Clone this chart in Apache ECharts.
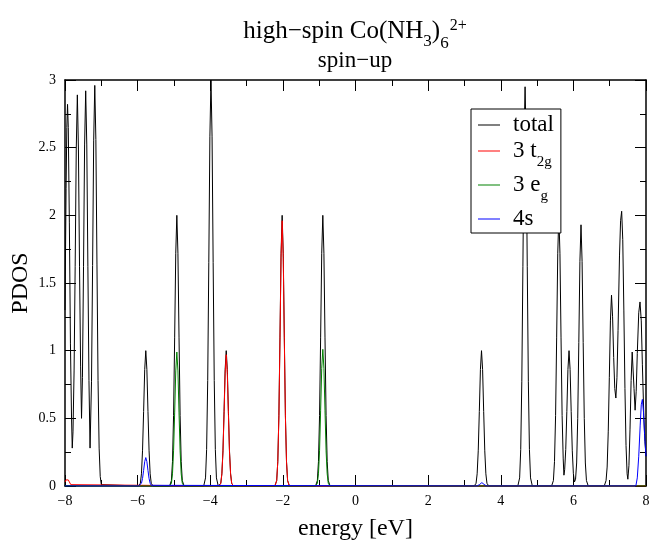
<!DOCTYPE html>
<html><head><meta charset="utf-8">
<script src="https://cdn.jsdelivr.net/npm/echarts@6/dist/echarts.min.js"></script>
<style>html,body{margin:0;padding:0;background:#fff}#c{width:652px;height:542px}</style>
</head><body><div id="c"></div>
<script>
// ---- data ----
const seriesNames = ['total', '3 t2g', '3 eg', '4s'];
const xTicks = [-8, -6, -4, -2, 0, 2, 4, 6, 8];
const yTicks = [0, 0.5, 1, 1.5, 2, 2.5, 3];

const totalPts = [
  [-8.00,1.30],[-7.97,2.20],[-7.95,2.65],[-7.93,2.82],[-7.91,2.65],[-7.88,1.95],[-7.85,1.05],[-7.82,0.50],[-7.80,0.28],[-7.78,0.40],
  [-7.75,0.85],[-7.72,1.62],[-7.69,2.49],[-7.66,2.89],[-7.63,2.49],[-7.60,1.62],[-7.57,0.88],[-7.545,0.50],[-7.52,0.80],[-7.49,1.62],
  [-7.46,2.52],[-7.43,2.92],[-7.40,2.52],[-7.37,1.62],[-7.34,0.78],[-7.31,0.28],[-7.27,0.77],[-7.24,1.63],[-7.21,2.55],[-7.18,2.96],
  [-7.15,2.56],[-7.12,1.64],[-7.09,0.78],[-7.06,0.28],[-7.03,0.07],[-7.00,0.01],[-6.95,0],
  [-5.975,0],[-5.925,0.02],[-5.895,0.09],[-5.865,0.26],[-5.835,0.55],[-5.805,0.86],[-5.775,1.0],[-5.745,0.86],[-5.715,0.55],[-5.685,0.26],[-5.655,0.09],[-5.625,0.02],[-5.575,0],
  [-5.12,0],[-5.07,0.04],[-5.04,0.18],[-5.01,0.52],[-4.98,1.10],[-4.95,1.72],[-4.92,2.0],[-4.89,1.72],[-4.86,1.10],[-4.83,0.52],[-4.80,0.18],[-4.77,0.04],[-4.72,0],
  [-4.18,0],[-4.13,0.06],[-4.10,0.27],[-4.07,0.78],[-4.04,1.65],[-4.01,2.58],[-3.98,3.0],[-3.95,2.58],[-3.92,1.65],[-3.89,0.78],[-3.86,0.27],[-3.83,0.06],[-3.78,0],
  [-3.76,0],[-3.71,0.02],[-3.68,0.09],[-3.65,0.26],[-3.62,0.55],[-3.59,0.86],[-3.56,1.0],[-3.53,0.86],[-3.50,0.55],[-3.47,0.26],[-3.44,0.09],[-3.41,0.02],[-3.36,0],
  [-2.22,0],[-2.17,0.04],[-2.14,0.18],[-2.11,0.52],[-2.08,1.10],[-2.05,1.72],[-2.02,2.0],[-1.99,1.72],[-1.96,1.10],[-1.93,0.52],[-1.90,0.18],[-1.87,0.04],[-1.82,0],
  [-1.10,0],[-1.05,0.04],[-1.02,0.18],[-0.99,0.52],[-0.96,1.10],[-0.93,1.72],[-0.90,2.0],[-0.87,1.72],[-0.84,1.10],[-0.81,0.52],[-0.78,0.18],[-0.75,0.04],[-0.70,0],
  [3.27,0],[3.32,0.02],[3.35,0.09],[3.38,0.26],[3.41,0.55],[3.44,0.86],[3.47,1.0],[3.50,0.86],[3.53,0.55],[3.56,0.26],[3.59,0.09],[3.62,0.02],[3.67,0],
  [4.47,0],[4.52,0.06],[4.55,0.27],[4.58,0.77],[4.61,1.62],[4.64,2.54],[4.67,2.95],[4.70,2.54],[4.73,1.62],[4.76,0.77],[4.79,0.27],[4.82,0.06],[4.87,0],
  [5.40,0],[5.45,0.04],[5.48,0.18],[5.51,0.52],[5.54,1.10],[5.57,1.72],[5.60,2.0],[5.63,1.72],[5.66,1.10],[5.69,0.52],[5.72,0.20],[5.74,0.08],
  [5.76,0.12],[5.79,0.27],[5.82,0.55],[5.85,0.86],[5.88,1.0],[5.91,0.86],[5.94,0.55],[5.97,0.26],[6.00,0.09],[6.03,0.03],
  [6.06,0.05],[6.09,0.17],[6.12,0.50],[6.15,1.06],[6.18,1.66],[6.21,1.93],[6.24,1.66],[6.27,1.06],[6.30,0.50],[6.33,0.17],[6.36,0.04],[6.41,0],
  [6.85,0],[6.90,0.04],[6.93,0.14],[6.96,0.40],[6.99,0.80],[7.02,1.22],[7.05,1.41],[7.08,1.25],[7.11,0.95],[7.14,0.72],[7.17,0.65],
  [7.20,0.80],[7.23,1.15],[7.27,1.70],[7.30,1.96],[7.33,2.03],[7.36,1.82],[7.39,1.30],[7.42,0.72],[7.45,0.30],[7.48,0.09],[7.50,0.05],
  [7.53,0.15],[7.56,0.42],[7.59,0.78],[7.62,0.99],[7.64,0.98],[7.67,0.72],[7.70,0.56],[7.73,0.70],[7.76,0.98],[7.80,1.28],[7.835,1.36],
  [7.87,1.22],[7.90,0.90],[7.94,0.52],[7.97,0.33],[8.00,0.22]
];
const t2gPts = [
  [-8.00,0.03],[-7.97,0.045],[-7.94,0.05],[-7.91,0.045],[-7.88,0.03],[-7.84,0.01],[-7.80,0],
  [-3.76,0],[-3.71,0.02],[-3.68,0.09],[-3.65,0.25],[-3.62,0.53],[-3.59,0.83],[-3.56,0.97],[-3.53,0.83],[-3.50,0.53],[-3.47,0.25],[-3.44,0.09],[-3.41,0.02],[-3.36,0],
  [-2.22,0],[-2.17,0.04],[-2.14,0.18],[-2.11,0.51],[-2.08,1.08],[-2.05,1.69],[-2.02,1.96],[-1.99,1.69],[-1.96,1.08],[-1.93,0.51],[-1.90,0.18],[-1.87,0.04],[-1.82,0],
  [8.00,0]
];
const egPts = [
  [-8.00,0],
  [-5.12,0],[-5.07,0.02],[-5.04,0.09],[-5.01,0.26],[-4.98,0.54],[-4.95,0.85],[-4.92,0.99],[-4.89,0.85],[-4.86,0.54],[-4.83,0.26],[-4.80,0.09],[-4.77,0.02],[-4.72,0],
  [-1.10,0],[-1.05,0.02],[-1.02,0.09],[-0.99,0.26],[-0.96,0.56],[-0.93,0.87],[-0.90,1.01],[-0.87,0.87],[-0.84,0.56],[-0.81,0.26],[-0.78,0.09],[-0.75,0.02],[-0.70,0],
  [8.00,0]
];
const s4Pts = [
  [-8.00,0],
  [-5.975,0],[-5.925,0.005],[-5.895,0.02],[-5.865,0.055],[-5.835,0.115],[-5.805,0.18],[-5.775,0.21],[-5.745,0.18],[-5.715,0.115],[-5.685,0.055],[-5.655,0.02],[-5.625,0.005],[-5.575,0],
  [3.35,0],[3.42,0.012],[3.48,0.025],[3.54,0.012],[3.61,0],
  [7.72,0],[7.76,0.06],[7.80,0.22],[7.84,0.45],[7.87,0.60],[7.90,0.64],[7.93,0.55],[7.96,0.38],[8.00,0.22]
];
const legendLabels = {
  'total': '{n|total}',
  '3 t2g': '{n|3 t}{sub|2g}',
  '3 eg': '{n|3 e}{sub|g}',
  '4s': '{n|4s}'
};

// ---- chart ----
const F = 'Liberation Serif';
const chart = echarts.init(document.getElementById('c'), null, {renderer: 'canvas'});
const minus = v => String(v).replace('-', '\u2212');
const axisCommon = {
  type: 'value',
  axisLine: {show: true, onZero: false, lineStyle: {color: '#000', width: 1.5}},
  axisTick: {show: true, inside: true, length: 11, lineStyle: {color: '#000', width: 1}},
  minorTick: {show: true, splitNumber: 2, length: 6, lineStyle: {color: '#000', width: 1}},
  splitLine: {show: false},
  minorSplitLine: {show: false}
};
const xRange = {min: xTicks[0], max: xTicks[xTicks.length - 1], interval: xTicks[1] - xTicks[0]};
const yRange = {min: yTicks[0], max: yTicks[yTicks.length - 1], interval: yTicks[1] - yTicks[0]};
const colors = ['#000000', '#ff0000', '#008000', '#0000ff'];
const ptsList = [totalPts, t2gPts, egPts, s4Pts];

const option = {
  animation: false,
  backgroundColor: '#ffffff',
  title: [
    {
      text: '{m|high\u2212spin Co(NH}{s|3}{m|)}{s2|6}{p|2+}',
      left: 355, top: 13, textAlign: 'center', padding: 0,
      textStyle: {
        fontFamily: F, fontWeight: 'normal', color: '#000', fontSize: 25,
        rich: {
          m: {fontFamily: F, fontSize: 25, color: '#000', lineHeight: 28, verticalAlign: 'top', padding: [6, 0, 0, 0]},
          s: {fontFamily: F, fontSize: 17, color: '#000', lineHeight: 18, verticalAlign: 'top', padding: [20, 0, 0, 0]},
          s2: {fontFamily: F, fontSize: 17, color: '#000', lineHeight: 18, verticalAlign: 'top', padding: [22, 0, 0, 0]},
          p: {fontFamily: F, fontSize: 16, color: '#000', lineHeight: 16, verticalAlign: 'top', padding: [5, 0, 0, 1]}
        }
      }
    },
    {
      text: 'spin\u2212up',
      left: 355, top: 49, textAlign: 'center', padding: 0,
      textStyle: {fontFamily: F, fontWeight: 'normal', color: '#000', fontSize: 23, lineHeight: 23}
    }
  ],
  grid: {left: 65, right: 6, top: 80, bottom: 56, containLabel: false, outerBoundsMode: 'none'},
  legend: {
    data: seriesNames,
    orient: 'vertical',
    left: 471, top: 109,
    padding: [4, 7, 3, 7],
    itemGap: 3,
    itemWidth: 22, itemHeight: 1,
    icon: 'rect',
    backgroundColor: '#ffffff',
    borderColor: '#000', borderWidth: 1, borderRadius: 0,
    selectedMode: false,
    formatter: name => legendLabels[name],
    textStyle: {
      fontFamily: F, fontSize: 23, color: '#000', padding: [0, 0, 0, 8],
      rich: {
        n: {fontFamily: F, fontSize: 23, color: '#000', lineHeight: 24, verticalAlign: 'top'},
        sub: {fontFamily: F, fontSize: 15, color: '#000', lineHeight: 15, verticalAlign: 'top', padding: [16, 0, 0, 0]}
      }
    }
  },
  xAxis: [
    Object.assign({}, axisCommon, xRange, {
      position: 'bottom',
      name: 'energy [eV]', nameLocation: 'middle', nameGap: 31, nameMoveOverlap: false,
      nameTextStyle: {fontFamily: F, fontSize: 24, color: '#000'},
      axisLabel: {show: true, fontFamily: F, fontSize: 14, color: '#000', margin: 8, formatter: minus}
    }),
    Object.assign({}, axisCommon, xRange, {position: 'top', axisLabel: {show: false}})
  ],
  yAxis: [
    Object.assign({}, axisCommon, yRange, {
      position: 'left',
      name: 'PDOS', nameLocation: 'middle', nameRotate: 90, nameGap: 32, nameMoveOverlap: false,
      nameTextStyle: {fontFamily: F, fontSize: 24, color: '#000'},
      axisLabel: {show: true, fontFamily: F, fontSize: 14, color: '#000', margin: 9, formatter: v => String(v)}
    }),
    Object.assign({}, axisCommon, yRange, {position: 'right', axisLabel: {show: false}})
  ],
  series: seriesNames.map((nm, i) => ({
    name: nm, type: 'line', data: ptsList[i],
    xAxisIndex: 0, yAxisIndex: 0,
    symbol: 'none', showSymbol: false, clip: true,
    color: colors[i],
    lineStyle: {color: colors[i], width: 1},
    itemStyle: {color: colors[i]},
    emphasis: {disabled: true},
    z: 2 + i
  }))
};
chart.setOption(option);
</script>
</body></html>
